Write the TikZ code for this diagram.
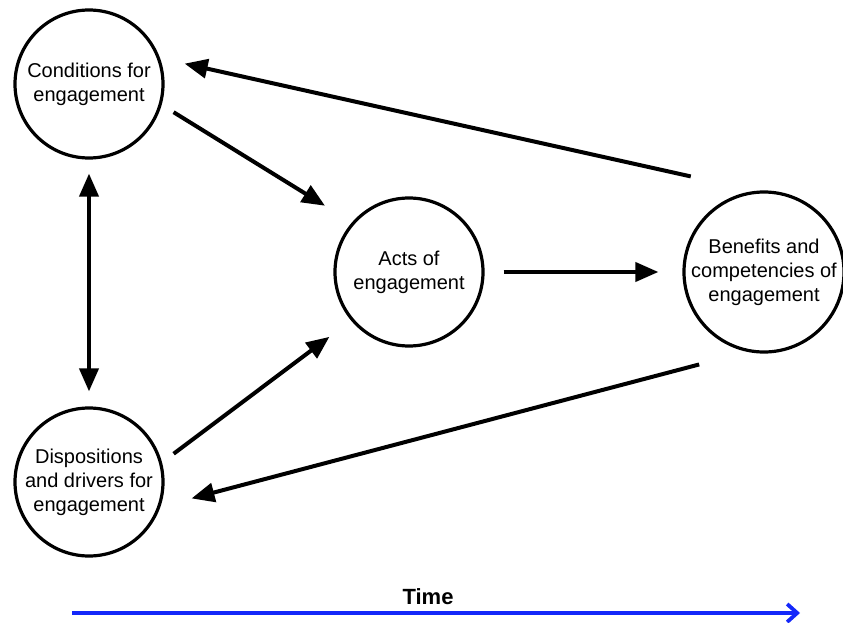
\documentclass[tikz,border=0pt]{standalone}
\usepackage{fontspec}
\setmainfont{Liberation Sans}
\usetikzlibrary{arrows.meta}
\definecolor{timeblue}{RGB}{20,40,250}
\begin{document}
\begin{tikzpicture}[x=1pt,y=-1pt,
  stage/.style={circle, draw, line width=3.2pt, minimum size=148pt, inner sep=0pt,
    align=center, font=\fontsize{20}{24}\selectfont},
  flow/.style={line width=4pt, -{Triangle[length=23pt,width=19pt]}},
  flowboth/.style={line width=4pt, {Triangle[length=23pt,width=19pt]}-{Triangle[length=23pt,width=19pt]}}]
\useasboundingbox (0,0) rectangle (843,623);

% the four stages
\node[stage] (cond) at (89,84)  {Conditions for\\engagement};
\node[stage] (disp) at (89,482) {Dispositions\\and drivers for\\engagement};
\node[stage] (acts) at (409,272) {Acts of\\engagement};
\node[stage, minimum size=160pt] (ben) at (764,272) {Benefits and\\competencies of\\engagement};

% links between stages
\draw[flow] (cond.-16.2) -- (acts.139.2) [shorten <=14pt, shorten >=31.7pt];
\draw[flow, shorten <=66.3pt, shorten >=25.2pt] (ben.96.7) -- (cond.20.2);
\draw[flow, shorten <=19pt, shorten >=24pt] (acts.0) -- (ben.180);
\draw[flow, shorten <=49.5pt, shorten >=32.1pt] (ben.258.3) -- (disp.-19.1);
\draw[flow, shorten <=14.5pt, shorten >=27.1pt] (disp.15.1) -- (acts.-140.8);
\draw[flowboth, shorten <=14pt, shorten >=15pt] (cond.south) -- (disp.north);

% time axis
\coordinate (t0) at (72,613);
\coordinate (t1) at (800,613);
\draw[timeblue, line width=3.8pt, -{Straight Barb[length=10pt,width=18pt]}] (t0) -- (t1);
\node[font=\fontsize{22}{24}\selectfont\bfseries] (time) at (428,597) {Time};
\end{tikzpicture}
\end{document}
